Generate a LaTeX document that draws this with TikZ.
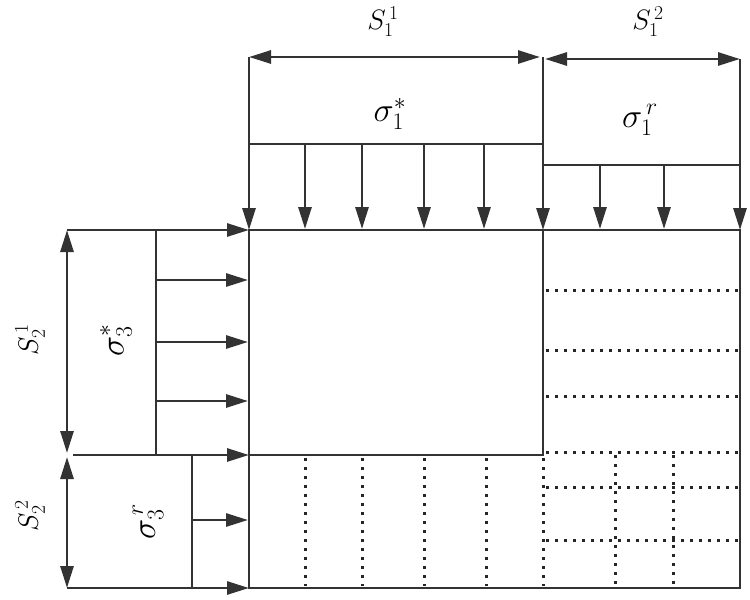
\RequirePackage{fix-cm}
\documentclass[tikz,border=0pt]{standalone}
\usetikzlibrary{arrows.meta}
\begin{document}
\begin{tikzpicture}[x=1pt,y=-1pt,
  thick line/.style={line width=2.8pt,draw=black!80},
  arr/.style={thick line,-{Triangle[length=22pt,width=13pt]}},
  darr/.style={thick line,{Triangle[length=22pt,width=13pt]}-{Triangle[length=22pt,width=13pt]}},
  dots/.style={line width=3pt,draw=black!85,dash pattern=on 3pt off 6pt},
  lbl/.style={font=\fontsize{28}{32}\selectfont,inner sep=0pt},
  slbl/.style={font=\fontsize{34}{38}\selectfont,inner sep=0pt}]
\useasboundingbox (0,0) rectangle (750,600);
% main block corners
\coordinate (TL) at (249,230);
\coordinate (TM) at (543,230);
\coordinate (TR) at (740,230);
\coordinate (ML) at (249,455);
\coordinate (MM) at (543,455);
\coordinate (BL) at (249,588);
\coordinate (BR) at (740,588);
% dotted lines lower-left
\foreach \x in {305,362,424,486,543} \draw[dots] (\x,458) -- (\x,586);
% dotted lines right
\foreach \y in {290,350,396,452,487,540} \draw[dots] (546,\y) -- (738,\y);
\foreach \x in {615,673} \draw[dots] (\x,455) -- (\x,586);
% main frame
\draw[thick line] (TL) -- (TR) -- (BR) -- (BL) -- cycle;
\draw[thick line] (TM) -- (MM) -- (ML);
% top: vertical edges with arrows
\coordinate (A1) at (249,57);
\coordinate (A2) at (543,57);
\coordinate (A3) at (740,59);
\draw[arr] (A1) -- (TL);
\draw[arr] (A2) -- (TM);
\draw[arr] (A3) -- (TR);
% dimension arrows top
\draw[darr] (A1) -- (540,57);
\draw[darr] (545,59) -- (A3);
\node[lbl] (s11) at (383,22) {$S_1^{\,1}$};
\node[lbl] (s12) at (648,22) {$S_1^{\,2}$};
% sigma1* load
\draw[thick line] (249,144) -- (543,144);
\foreach \x in {305,362,424,484} \draw[arr] (\x,144) -- (\x,229);
\node[slbl] (sig1s) at (390,114) {$\sigma_1^{*}$};
% sigma1r load
\draw[thick line] (543,165) -- (740,165);
\foreach \x in {600,664} \draw[arr] (\x,165) -- (\x,229);
\node[slbl] (sig1r) at (640,120) {$\sigma_{1}^{\,r}$};
% left side
\coordinate (L1) at (67,230);
\coordinate (L2) at (67,455);
\coordinate (L2b) at (73,455);
\coordinate (L3) at (67,588);
\draw[arr] (L1) -- (TL);
\draw[arr] (L2b) -- (ML);
\draw[arr] (L3) -- (BL);
\draw[darr] (L1) -- (67,453);
\draw[darr] (67,457) -- (L3);
\draw[thick line] (156,230) -- (156,455);
\foreach \y in {280,342,401} \draw[arr] (156,\y) -- (248,\y);
\draw[thick line] (192,455) -- (192,588);
\draw[arr] (192,520) -- (248,520);
\node[lbl,rotate=90] (s21) at (30,340) {$S_2^{\,1}$};
\node[lbl,rotate=90] (s22) at (30,516) {$S_2^{\,2}$};
\node[slbl,rotate=90] (sig3s) at (116,340) {$\sigma_3^{*}$};
\node[slbl,rotate=90] (sig3r) at (148,522) {$\sigma_{3}^{\,r}$};
\end{tikzpicture}
\end{document}
